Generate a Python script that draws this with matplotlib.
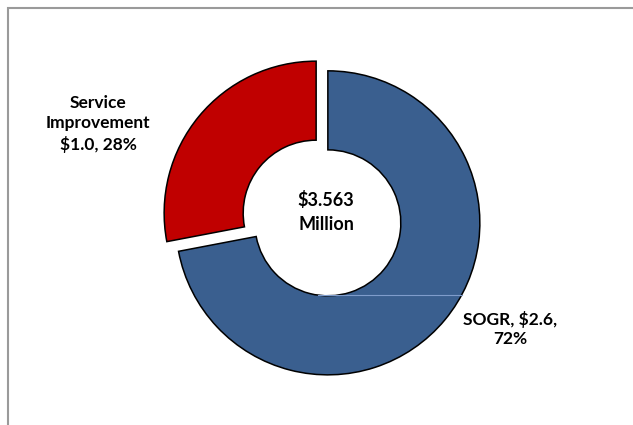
import matplotlib.pyplot as plt
from matplotlib.patches import Rectangle

# data
categories = ["SOGR", "Service Improvement"]
amounts = [2.6, 1.0]          # $ millions, as labelled
shares = [72, 28]             # percent
total_label = "$3.563\nMillion"
colors = ["#3A5F8F", "#C00000"]

plt.rcParams['font.family'] = ['Lato', 'DejaVu Sans']

W, H = 633, 425
fig = plt.figure(figsize=(W / 100, H / 100), dpi=100)
ax = fig.add_axes([0, 0, 1, 1])

# outer frame (only left and top edges fall inside the picture)
fig.patches.append(Rectangle((8 / W, -0.1), 1.2, 1 - 8 / H + 0.1,
                             transform=fig.transFigure, fill=False,
                             edgecolor='#9a9a9a', linewidth=1.5))

# doughnut, both slices pulled out a little
R = 152
wedges, _ = ax.pie(shares, colors=colors, startangle=90, counterclock=False,
                   explode=[0.05 * R, 0.05 * R], radius=R, center=(322, 207),
                   wedgeprops=dict(width=0.52 * R, edgecolor='black', linewidth=1.1),
                   frame=True)
ax.set_xlim(0, W)
ax.set_ylim(0, H)
ax.axis('off')

# faint leader line from the SOGR label into its slice
cx = wedges[0].center[0]
ax.plot([cx - 10, 462], [130, 130], color='#7f9ccb', lw=0.8, zorder=3)

labels = [f"{categories[0]}, ${amounts[0]:.1f},\n{shares[0]}%",
          f"Service\nImprovement\n${amounts[1]:.1f}, {shares[1]}%"]
ax.text(510, 96, labels[0], ha='center', va='center', fontsize=12.5,
        fontweight='bold', linespacing=1.3)
ax.text(98, 301, labels[1], ha='center', va='center', fontsize=12.5,
        fontweight='bold', linespacing=1.3)
ax.text(326, 213, total_label, ha='center', va='center', fontsize=13,
        fontweight='bold', linespacing=1.45)

fig.savefig("out.png", dpi=100)
